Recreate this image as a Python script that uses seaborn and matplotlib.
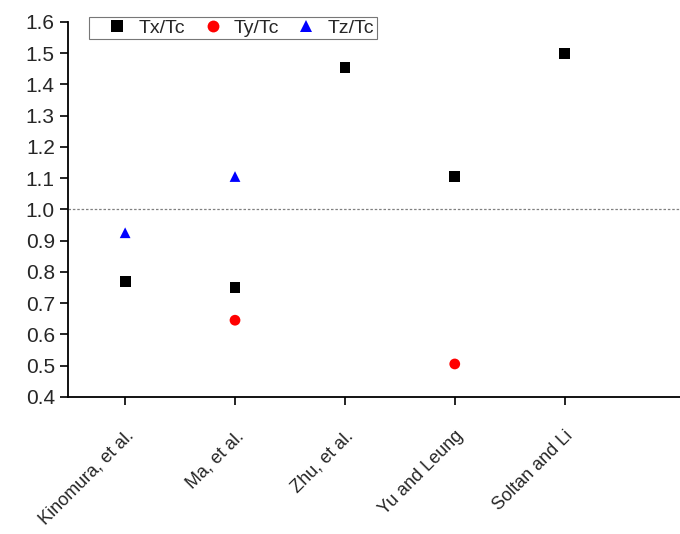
import numpy as np
import pandas as pd
import seaborn as sns
import matplotlib.pyplot as plt

# data
studies = ['Kinomura, et al.', 'Ma, et al.', 'Zhu, et al.', 'Yu and Leung', 'Soltan and Li']
tx_tc = [0.77, 0.75, 1.455, 1.105, 1.50]
ty_tc = [np.nan, 0.645, np.nan, 0.505, np.nan]
tz_tc = [0.925, 1.105, np.nan, np.nan, np.nan]

df = pd.DataFrame({'Study': studies, 'Tx/Tc': tx_tc, 'Ty/Tc': ty_tc, 'Tz/Tc': tz_tc})
long_df = df.melt(id_vars='Study', var_name='Ratio', value_name='Value').dropna()

sns.set_style('ticks')
plt.rcParams['font.family'] = ['Liberation Sans', 'DejaVu Sans']

fig = plt.figure(figsize=(6.8, 5.34), dpi=100)
ax = fig.add_axes([0.1, 0.257, 0.9, 0.702])

sns.scatterplot(data=long_df, x='Study', y='Value', hue='Ratio', style='Ratio',
                hue_order=['Tx/Tc', 'Ty/Tc', 'Tz/Tc'],
                palette={'Tx/Tc': 'black', 'Ty/Tc': 'red', 'Tz/Tc': 'blue'},
                markers={'Tx/Tc': 's', 'Ty/Tc': 'o', 'Tz/Tc': '^'},
                s=60, linewidth=0, ax=ax)

ax.axhline(1.0, color='gray', linestyle=(0, (2, 1.5)), linewidth=0.9)

ax.set_xlim(-0.52, 5.05)
ax.set_ylim(0.4, 1.6)
ticks = np.arange(0.4, 1.61, 0.1)
ax.set_yticks(ticks)
ax.set_yticklabels([f'{v:.1f}' for v in ticks], fontsize=15)
ax.set_xticks(range(len(studies)))
ax.set_xticklabels(studies, rotation=45, ha='right', rotation_mode='anchor', fontsize=13)
ax.set_xlabel('')
ax.set_ylabel('')
ax.tick_params(axis='both', direction='out', length=6, width=1.2, color='black')
ax.tick_params(axis='x', pad=16)
for side in ['top', 'right']:
    ax.spines[side].set_visible(False)
for side in ['left', 'bottom']:
    ax.spines[side].set_linewidth(1.3)
    ax.spines[side].set_color('black')

leg = ax.legend(ncol=3, loc='upper left', bbox_to_anchor=(0.034, 1.013), borderaxespad=0,
                fontsize=14, frameon=True, fancybox=False, edgecolor='#555555',
                handlelength=2.7, handletextpad=-0.25, columnspacing=0.05,
                borderpad=0.12, markerscale=1.1)
leg.get_frame().set_linewidth(0.8)

plt.savefig('out.png', dpi=100)
plt.close()
